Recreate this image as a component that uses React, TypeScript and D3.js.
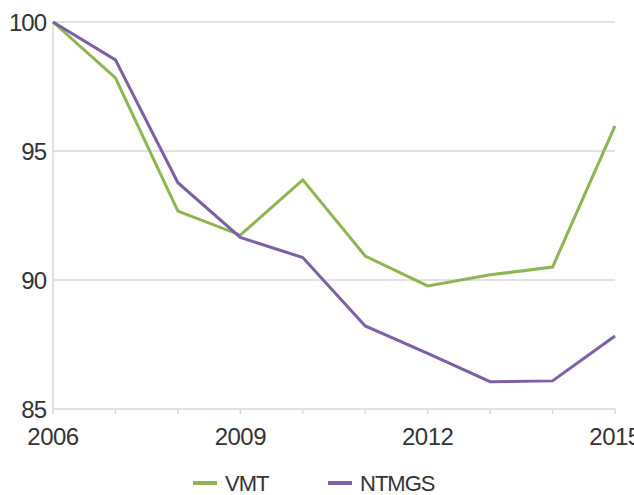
import React from "react";
import * as d3 from "d3";

const years = [2006, 2007, 2008, 2009, 2010, 2011, 2012, 2013, 2014, 2015];
const vmt = [100, 97.83, 92.67, 91.74, 93.88, 90.93, 89.77, 90.2, 90.5, 95.97];
const ntmgs = [100, 98.53, 93.77, 91.65, 90.87, 88.22, 87.16, 86.06, 86.09, 87.83];
const yTicks = [85, 90, 95, 100];
const xTickLabels = [2006, 2009, 2012, 2015];
const seriesNames = ["VMT", "NTMGS"];
const seriesColors = ["#8cb650", "#7c5fa6"];

const W = 634;
const H = 495;
const FONT = "'Liberation Sans', Arial, sans-serif";

export default function App() {
  const x = d3.scaleLinear().domain([2006, 2015]).range([53, 615]);
  const y = d3.scaleLinear().domain([85, 100]).range([409, 22]);
  const line = d3
    .line<number>()
    .x((_, i) => x(years[i]))
    .y((d) => y(d));
  const series = [vmt, ntmgs];
  const legendX = [193, 328];

  return (
    <svg
      width={W}
      height={H}
      style={{ position: "absolute", left: 0, top: 0, background: "#fff" }}
      fontFamily={FONT}
    >
      {yTicks
        .filter((t) => t !== 85)
        .map((t) => (
          <line key={t} x1={x(2006)} x2={x(2015)} y1={y(t)} y2={y(t)} stroke="#d9d9d9" strokeWidth={1.5} />
        ))}
      <line x1={x(2006)} x2={x(2006)} y1={y(100)} y2={y(85)} stroke="#d9d9d9" strokeWidth={1.5} />
      <line x1={x(2006)} x2={x(2015)} y1={y(85)} y2={y(85)} stroke="#d9d9d9" strokeWidth={1.5} />
      {years.map((yr) => (
        <line key={yr} x1={x(yr)} x2={x(yr)} y1={y(85)} y2={y(85) + 5} stroke="#d9d9d9" strokeWidth={1.5} />
      ))}
      {yTicks.map((t) => (
        <text key={t} x={46} y={y(t)} textAnchor="end" dominantBaseline="central" fontSize={24} fill="#333" letterSpacing={-1}>
          {t}
        </text>
      ))}
      {xTickLabels.map((t) => (
        <text key={t} x={x(t)} y={436} textAnchor="middle" dominantBaseline="central" fontSize={24} fill="#333" letterSpacing={-0.5}>
          {t}
        </text>
      ))}
      {series.map((s, i) => (
        <path key={i} d={line(s) || ""} fill="none" stroke={seriesColors[i]} strokeWidth={3} strokeLinejoin="miter" />
      ))}
      {seriesNames.map((n, i) => (
        <g key={n}>
          <line x1={legendX[i]} x2={legendX[i] + 24} y1={483} y2={483} stroke={seriesColors[i]} strokeWidth={4} />
          <text x={legendX[i] + 32} y={483} dominantBaseline="central" fontSize={22} fill="#333" letterSpacing={-1}>
            {n}
          </text>
        </g>
      ))}
    </svg>
  );
}
